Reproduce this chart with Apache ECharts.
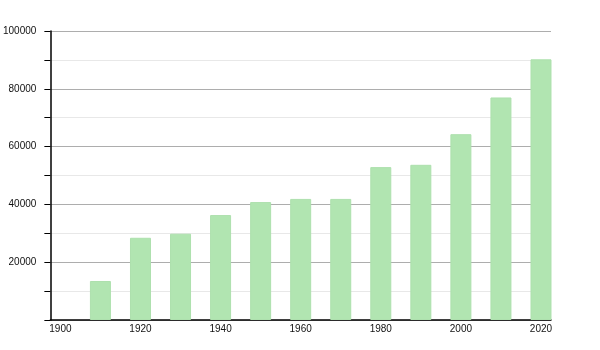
<!DOCTYPE html>
<html>
<head>
<meta charset="utf-8">
<script src="https://cdn.jsdelivr.net/npm/echarts@6/dist/echarts.min.js"></script>
<style>
html,body{margin:0;padding:0;background:#fff;}
#c{width:600px;height:350px;}
</style>
</head>
<body>
<div id="c"></div>
<script>
var years = [1910, 1920, 1930, 1940, 1950, 1960, 1970, 1980, 1990, 2000, 2010, 2020];
var population = [13500, 28450, 29850, 36300, 40800, 41900, 41900, 52900, 53700, 64300, 77000, 90200];
var xTickLabels = [1900, 1920, 1940, 1960, 1980, 2000, 2020];

var chart = echarts.init(document.getElementById('c'), null, {renderer: 'canvas'});
var seriesData = years.map(function (y, i) { return [y, population[i]]; });

chart.setOption({
  animation: false,
  backgroundColor: '#ffffff',
  grid: {left: 50, right: 49, top: 31, bottom: 30, containLabel: false},
  xAxis: {
    type: 'value',
    min: 1897.5,
    max: 2022.5,
    axisLine: {show: true, onZero: false, lineStyle: {color: '#000', width: 1.5}},
    axisTick: {show: false},
    splitLine: {show: false},
    axisLabel: {
      customValues: xTickLabels,
      margin: 4,
      color: '#111',
      fontSize: 10,
      fontFamily: 'Liberation Sans, Arial, sans-serif',
      formatter: function (v) { return String(v); }
    }
  },
  yAxis: {
    type: 'value',
    min: 0,
    max: 100000,
    interval: 20000,
    axisLine: {show: true, lineStyle: {color: '#000', width: 1.5}},
    axisTick: {show: true, length: 6, lineStyle: {color: '#000', width: 1}},
    minorTick: {show: true, splitNumber: 2, length: 6, lineStyle: {color: '#000', width: 1}},
    splitLine: {show: true, lineStyle: {color: '#adadad', width: 1}},
    minorSplitLine: {show: true, lineStyle: {color: '#e8e8e8', width: 1}},
    axisLabel: {
      margin: 14,
      color: '#111',
      fontSize: 10,
      fontFamily: 'Liberation Sans, Arial, sans-serif',
      formatter: function (v) { return v === 0 ? '' : String(v); }
    }
  },
  series: [{
    type: 'bar',
    data: seriesData,
    barWidth: 21,
    itemStyle: {
      color: '#b1e5b1',
      borderColor: '#ade0ad',
      borderWidth: 1
    }
  }]
});
</script>
</body>
</html>
